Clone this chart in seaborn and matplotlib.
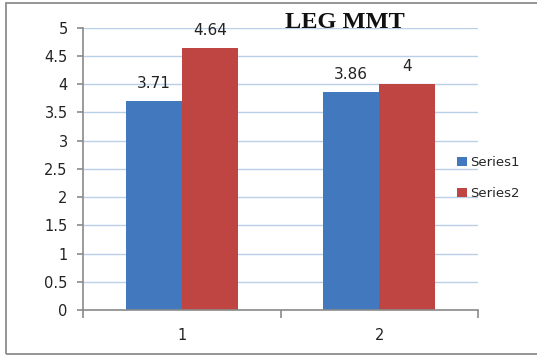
import matplotlib
matplotlib.use("Agg")
import matplotlib.pyplot as plt
from matplotlib.patches import Rectangle
import seaborn as sns
import pandas as pd

categories = ["1", "2"]
series_names = ["Series1", "Series2"]
series1 = [3.71, 3.86]
series2 = [4.64, 4.0]
y_ticks = [0, 0.5, 1, 1.5, 2, 2.5, 3, 3.5, 4, 4.5, 5]
y_tick_labels = ["0", "0.5", "1", "1.5", "2", "2.5", "3", "3.5", "4", "4.5", "5"]
title = "LEG MMT"

df = pd.DataFrame({
    "category": categories * 2,
    "series": [series_names[0]] * 2 + [series_names[1]] * 2,
    "value": series1 + series2,
})

sns.set_theme(style="white")
plt.rcParams["font.family"] = ["DejaVu Sans"]

W, H = 537, 356
fig = plt.figure(figsize=(W / 100, H / 100), dpi=100)
fig.patch.set_facecolor("white")

# chart-area border
fig.add_artist(Rectangle((6 / W, 2 / H), 1.2, 353 / H - 2 / H, transform=fig.transFigure,
                         fill=False, edgecolor="#8c8c8c", linewidth=1.3))

ax = fig.add_axes([83 / W, 1 - 310 / H, (478 - 83) / W, (310 - 27.7) / H])
palette = {"Series1": "#4279BE", "Series2": "#BE4542"}
sns.barplot(data=df, x="category", y="value", hue="series", order=categories,
            hue_order=series_names, palette=palette, width=0.566, saturation=1,
            edgecolor="none", linewidth=0, ax=ax, legend=True)

ax.set_ylim(0, 5)
ax.set_xlim(-0.5, 1.5)
ax.set_yticks(y_ticks)
ax.set_yticklabels(y_tick_labels)
ax.set_xlabel("")
ax.set_ylabel("")

ax.yaxis.grid(True, color="#BACFE8", linewidth=1)
ax.set_axisbelow(True)
for s in ["top", "right"]:
    ax.spines[s].set_visible(False)
for s in ["left", "bottom"]:
    ax.spines[s].set_color("#8a8a8a")
    ax.spines[s].set_linewidth(1.2)

# category ticks sit on the boundaries between groups
ax.set_xticks([-0.5, 0.5, 1.5], minor=False)
ax.set_xticklabels(["", "", ""])
ax.set_xticks([0, 1], minor=True)
ax.set_xticklabels(categories, minor=True)
ax.tick_params(axis="x", which="major", direction="out", length=5.5, width=1.2,
               color="#8a8a8a", bottom=True)
ax.tick_params(axis="x", which="minor", length=0, pad=13, labelsize=10.5,
               labelcolor="#222222", bottom=True)
ax.tick_params(axis="y", direction="out", length=4, width=1.2, color="#8a8a8a",
               pad=7, labelsize=10.5, labelcolor="#222222", left=True)

for container in ax.containers:
    ax.bar_label(container, fmt="%g", padding=7, fontsize=11, color="#222222")

handles, labels = ax.get_legend_handles_labels()
ax.legend(handles, labels, loc="center left", bbox_to_anchor=(452 / W, 1 - 178 / H),
          bbox_transform=fig.transFigure, frameon=False, fontsize=9.5,
          handlelength=0.7, handleheight=0.7, handletextpad=0.3,
          labelspacing=1.35, borderaxespad=0)

fig.text(345 / W, 1 - 23 / H, title, ha="center", va="center",
         fontfamily="Liberation Serif", fontweight="bold", fontsize=17.5, color="#111111")

fig.savefig("out.png", dpi=100, facecolor="white")
